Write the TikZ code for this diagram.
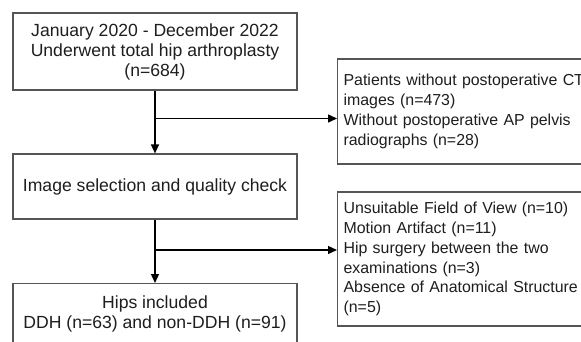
\documentclass[tikz,border=0pt]{standalone}
\usepackage{fontspec}
\setsansfont{Liberation Sans}
\usetikzlibrary{arrows.meta, positioning}
\definecolor{cgrey}{HTML}{555555}
\definecolor{ctext}{HTML}{1E1E1E}
\tikzset{
  every picture/.style={font=\sffamily, line width=1.2pt},
  box/.style={draw=cgrey, fill=white, align=center, text=ctext, inner sep=0pt,
    minimum width=284pt, font={\sffamily\fontsize{17.6}{20}\selectfont}},
  sidebox/.style={draw=cgrey, fill=white, align=left, text=ctext, anchor=west,
    inner xsep=6pt, inner ysep=0pt, minimum width=270pt, text width=258pt,
    font={\sffamily\fontsize{15.9}{19.8}\selectfont}},
  arrow/.style={-{Triangle[length=9pt, width=8pt]}, draw=black, line width=1.4pt},
}

\begin{document}
\begin{tikzpicture}[x=1pt, y=-1pt]
  \clip (0,0) rectangle (581,342);
  \fill[white] (0,0) rectangle (581,342);
  % main column
  \node[box, minimum height=77pt] (start) at (155,51.5)
    {January 2020 - December 2022\\Underwent total hip arthroplasty\\(n=684)};
  \node[box, minimum height=65pt] (check) at (155,186.5)
    {Image selection and quality check};
  \node[box, minimum height=60pt, anchor=north] (hips) at (155,283)
    {Hips included\\DDH (n=63) and non-DDH (n=91)};
  % exclusions on the right
  \node[sidebox, minimum height=105pt] (excl1) at (337,111.5)
    {Patients without postoperative CT\\images (n=473)\\Without postoperative AP pelvis\\radiographs (n=28)};
  \node[sidebox, minimum height=134pt] (excl2) at (337,259)
    {Unsuitable Field of View (n=10)\\Motion Artifact (n=11)\\Hip surgery between the two\\examinations (n=3)\\Absence of Anatomical Structure\\(n=5)};
  \coordinate (split1) at (155,118.5);
  \coordinate (split2) at (155,250);
  \draw[arrow] (start) -- (check);
  \draw[arrow] (check) -- (hips);
  \draw[arrow] (split1) -- (split1 -| excl1.west);
  \draw[arrow] (split2) -- (split2 -| excl2.west);
\end{tikzpicture}
\end{document}
